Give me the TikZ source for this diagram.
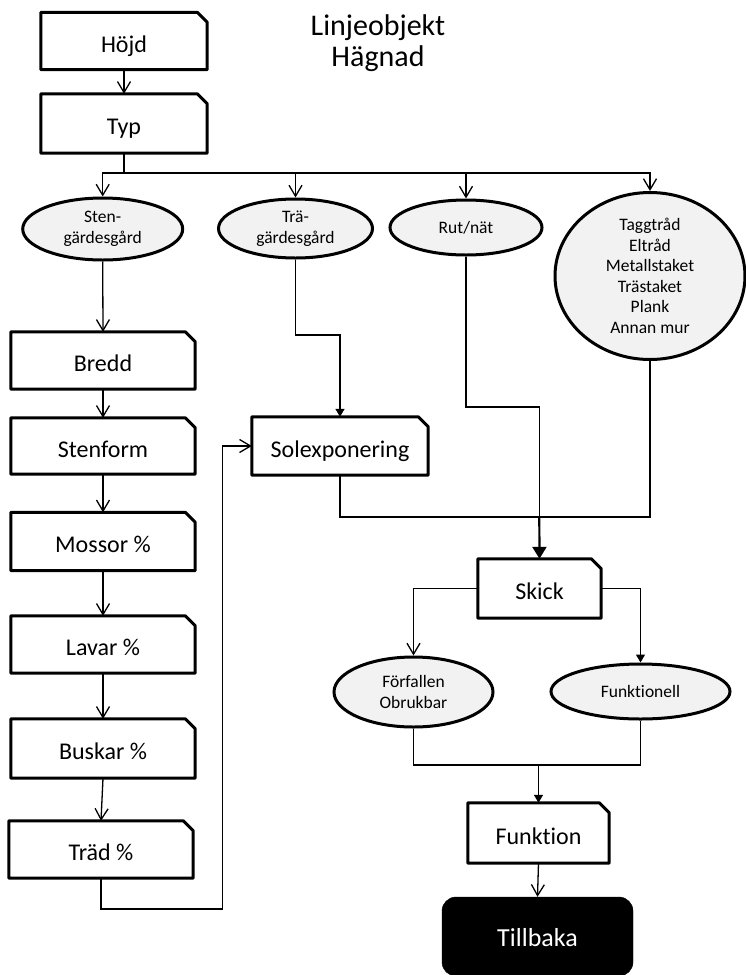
\documentclass[tikz,border=0pt]{standalone}
\usepackage{fontspec}
\setmainfont{Carlito}[Ligatures=NoCommon]
\usetikzlibrary{arrows.meta,shapes.geometric}
\tikzset{
  x=1pt, y={(0,-1pt)},
  cardtxt/.style={draw=none, inner sep=0pt, text height=22pt, text depth=0pt,
    font=\fontsize{24}{28}\selectfont},
  cardline/.style={line width=3pt, line join=round},
  oval/.style={ellipse, draw, line width=3pt, fill=ovalgray, inner sep=0pt, align=center,
    font=\fontsize{17.5}{20.5}\selectfont},
  conn/.style={line width=1.3pt},
  thickconn/.style={line width=2.2pt},
  oarrow/.style={-{Straight Barb[length=11pt,width=13pt,line width=1.3pt]}},
  farrow/.style={-{Triangle[length=8pt,width=9pt]}},
  farrowbig/.style={-{Triangle[length=12pt,width=14pt]}},
  titletxt/.style={font=\fontsize{30}{36}\selectfont, inner sep=0pt, anchor=base},
  backbtn/.style={fill=black, draw=black, rounded corners=14pt, text=white,
    text height=19pt, text depth=0pt, font=\fontsize{26}{30}\selectfont, inner sep=0pt}
}
\definecolor{ovalgray}{HTML}{F2F2F2}
\newcommand\card[5]{%
  \node[cardtxt, minimum width=#3pt, minimum height=#4pt] (#1) at (#2) {#5};
  \draw[cardline] (#1.south west) -- (#1.north west) -- ([xshift=-10pt]#1.north east)
    -- ([yshift=-10pt]#1.north east) -- (#1.south east) -- cycle;}
\begin{document}
\begin{tikzpicture}
\useasboundingbox (0,0) rectangle (746,975);
% title
\node[titletxt] (title1) at (378,35) {Linjeobjekt};
\node[titletxt] (title2) at (378,66.5) {Hägnad};
% boxes
\card{Hojd}{124,41}{166}{57}{Höjd}
\card{Typ}{124,123.5}{166}{59}{Typ}
\card{Bredd}{103,360.5}{184}{57}{Bredd}
\card{Stenform}{103,446}{184}{56}{Stenform}
\card{Mossor}{103,541.5}{184}{58}{Mossor \%}
\card{Lavar}{103,644.5}{184}{57}{Lavar \%}
\card{Buskar}{103,748.5}{184}{59}{Buskar \%}
\card{Trad}{101,849.5}{184}{57}{Träd \%}
\card{Solexp}{340,446}{176}{58}{Solexponering}
\card{Skick}{539.5,588.5}{123}{59}{Skick}
\card{Funktion}{538.5,833}{141}{60}{Funktion}
% ovals
\node[oval, minimum width=160pt, minimum height=62pt] (Sten) at (102.7,229) {Sten-\\gärdesgård};
\node[oval, minimum width=154pt, minimum height=59pt] (Tra) at (295.5,228.5) {Trä-\\gärdesgård};
\node[oval, minimum width=152pt, minimum height=55pt] (Rut) at (466,227.5) {Rut/nät};
\node[oval, minimum width=190pt, minimum height=167pt] (Tagg) at (650,276)
  {Taggtråd\\Eltråd\\Metallstaket\\Trästaket\\Plank\\Annan mur};
\node[oval, minimum width=159pt, minimum height=70pt] (Forf) at (413.5,692) {Förfallen\\Obrukbar};
\node[oval, minimum width=179pt, minimum height=55pt] (Funk) at (640.5,691.5) {Funktionell};
% back button
\node[backbtn, minimum width=191pt, minimum height=79pt] (Tillbaka) at (537.5,936.5) {Tillbaka};
% helper coordinates
\coordinate (bus) at (124,173);
\coordinate (tb) at (222.7,909);
\coordinate (tr1) at (340,335);
\coordinate (rk1) at (539.3,407);
\coordinate (jm) at (539.3,517);
\coordinate (jf) at (538.5,765);
% connectors
\draw[conn,oarrow] (Hojd.south) -- (Typ.north);
\draw[conn] (Typ.south) -- (bus);
\draw[conn,oarrow] (bus) -| (Sten.north);
\draw[conn,oarrow] (bus) -| (Tra.north);
\draw[conn,oarrow] (bus) -| (Rut.north);
\draw[conn,oarrow] (bus) -| (Tagg.north);
\draw[conn,oarrow] (Sten.south) -- (Bredd.north);
\draw[conn,oarrow] (Bredd.south) -- (Stenform.north);
\draw[conn,oarrow] (Stenform.south) -- (Mossor.north);
\draw[conn,oarrow] (Mossor.south) -- (Lavar.north);
\draw[conn,oarrow] (Lavar.south) -- (Buskar.north);
\draw[conn,oarrow] (Buskar.south) -- (Trad.north);
\draw[conn,oarrow] (Trad.south) |- (tb) |- (Solexp.west);
\draw[conn,farrow] (Tra.south) |- (tr1) -- (Solexp.north);
\draw[conn] (Rut.south) |- (rk1) -- (jm);
\draw[conn] (Solexp.south) |- (jm) -| (Tagg.south);
\draw[thickconn,farrowbig] (jm) -- (Skick.north);
\draw[conn,oarrow] (Skick.west) -| (Forf.north);
\draw[conn,farrow] (Skick.east) -| (Funk.north);
\draw[conn] (Forf.south) |- (jf) -| (Funk.south);
\draw[conn,farrow] (jf) -- (Funktion.north);
\draw[conn,oarrow] (Funktion.south) -- (Tillbaka.north);
\end{tikzpicture}
\end{document}
